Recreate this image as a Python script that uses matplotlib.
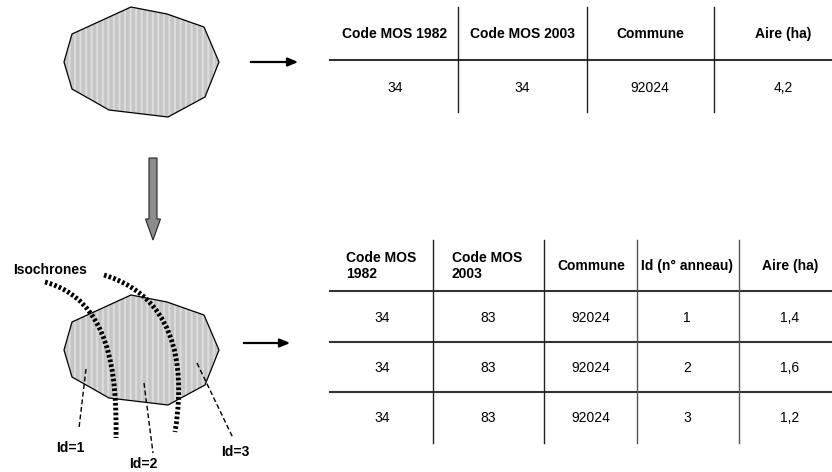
import matplotlib

matplotlib.use("Agg")
import matplotlib.pyplot as plt
from matplotlib.patches import Polygon, PathPatch, FancyArrow
from matplotlib.path import Path

plt.rcParams["font.family"] = ["Liberation Sans", "DejaVu Sans"]
plt.rcParams["hatch.linewidth"] = 1.5

# ── data ────────────────────────────────────────────────────────────────────
# parcel outline (pixel coords, y down)
parcel = [(72, 34), (131, 7), (167, 14), (204, 27), (219, 62),
          (205, 97), (168, 117), (109, 110), (72, 89), (64, 62)]
parcel_shift = 288  # second copy further down

header_1 = ["Code MOS 1982", "Code MOS 2003", "Commune", "Aire (ha)"]
row_1 = ["34", "34", "92024", "4,2"]

header_2 = ["Code MOS\n1982", "Code MOS\n2003", "Commune", "Id (n° anneau)", "Aire (ha)"]
rows_2 = [
    ["34", "83", "92024", "1", "1,4"],
    ["34", "83", "92024", "2", "1,6"],
    ["34", "83", "92024", "3", "1,2"],
]

id_labels = ["Id=1", "Id=2", "Id=3"]

FS = 10

# ── figure ──────────────────────────────────────────────────────────────────
fig = plt.figure(figsize=(8.32, 4.72), dpi=100)
ax = fig.add_axes([0, 0, 1, 1])
ax.set_xlim(0, 832)
ax.set_ylim(472, 0)
ax.axis("off")


def draw_parcel(dy):
    pts = [(x, y + dy) for x, y in parcel]
    ax.add_patch(Polygon(pts, closed=True, facecolor="#c6c6c6", edgecolor="#dcdcdc",
                         hatch="|||", lw=0, zorder=1))
    ax.add_patch(Polygon(pts, closed=True, fill=False, edgecolor="black", lw=0.9, zorder=2))


draw_parcel(0)
draw_parcel(parcel_shift)

# arrows
ax.annotate("", xy=(301, 62), xytext=(248, 62),
            arrowprops=dict(arrowstyle="-|>,head_length=0.6,head_width=0.25", color="black", lw=1.6))
ax.annotate("", xy=(293, 343), xytext=(241, 343),
            arrowprops=dict(arrowstyle="-|>,head_length=0.6,head_width=0.25", color="black", lw=1.6))
ax.add_patch(FancyArrow(153, 158, 0, 82, width=8, head_width=15, head_length=21,
                        length_includes_head=True, facecolor="#8c8c8c", edgecolor="#222222", lw=0.8))

# isochrones (thick dotted curves)
iso_curves = [
    [(45, 282), (110, 300), (117, 373), (116, 438)],
    [(104, 275), (185, 300), (183, 383), (175, 432)],
]
for c in iso_curves:
    path = Path(c, [Path.MOVETO, Path.CURVE4, Path.CURVE4, Path.CURVE4])
    ax.add_patch(PathPatch(path, fill=False, edgecolor="black", lw=3.5,
                           linestyle=(0, (0.55, 0.45)), zorder=3))
ax.text(13, 270, "Isochrones", fontsize=FS, fontweight="bold", va="center", ha="left")

# Id leader lines
id_lines = [((86, 369), (79, 428)), ((144, 383), (153, 453)), ((197, 363), (233, 438))]
id_pos = [(70, 448), (143, 464), (235, 452)]
for (p0, p1), lab, (tx, ty) in zip(id_lines, id_labels, id_pos):
    ax.plot([p0[0], p1[0]], [p0[1], p1[1]], color="black", lw=1, ls=(0, (3.5, 2)), zorder=3)
    ax.text(tx, ty, lab, fontsize=FS, fontweight="bold", ha="center", va="center")

# ── table 1 ─────────────────────────────────────────────────────────────────
cols1 = [458, 587, 714]
cent1 = [395, 522, 650, 783]
ax.plot([330, 832], [60, 60], color="#333333", lw=1.5)
for x in cols1:
    ax.plot([x, x], [7, 112], color="#222222", lw=1)
for x, h, v in zip(cent1, header_1, row_1):
    ax.text(x, 34, h, fontsize=FS, fontweight="bold", ha="center", va="center")
    ax.text(x, 88, v, fontsize=FS, ha="center", va="center")

# ── table 2 ─────────────────────────────────────────────────────────────────
cols2 = [433, 544, 637, 739]
cent2 = [382, 488, 591, 687, 790]
hlines2 = [291, 342, 392]
row_y = [318, 368, 418]
for y in hlines2:
    ax.plot([330, 832], [y, y], color="#333333", lw=1.5)
for i, x in enumerate(cols2):
    ax.plot([x, x], [240, 443], color="#222222" if i < 2 else "#555555", lw=1)
for i, h in enumerate(header_2):
    if i < 2:
        ax.text([346, 452][i], 266, h, fontsize=FS, fontweight="bold", ha="left", va="center",
                linespacing=1.2)
    else:
        ax.text(cent2[i], 266, h, fontsize=FS, fontweight="bold", ha="center", va="center")
for row, y in zip(rows_2, row_y):
    for x, v in zip(cent2, row):
        ax.text(x, y, v, fontsize=FS, ha="center", va="center")

fig.savefig("out.png", dpi=100, facecolor="white")
